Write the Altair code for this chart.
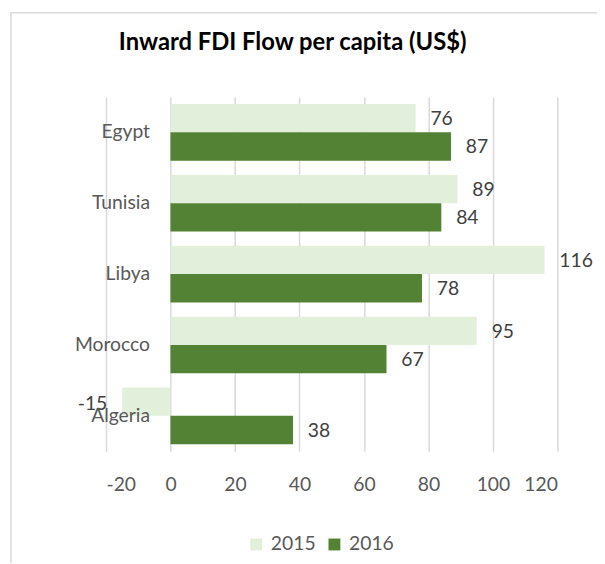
import altair as alt
import pandas as pd

countries = ["Egypt", "Tunisia", "Libya", "Morocco", "Algeria"]
years = ["2015", "2016"]
fdi_2015 = [76, 89, 116, 95, -15]
fdi_2016 = [87, 84, 78, 67, 38]
x_ticks = [-20, 0, 20, 40, 60, 80, 100, 120]
colors = ["#e2efda", "#548235"]
title_text = "Inward FDI Flow per capita (US$)"

rows = []
for c, a, b in zip(countries, fdi_2015, fdi_2016):
    rows.append({"country": c, "year": "2015", "value": a, "label": str(a)})
    rows.append({"country": c, "year": "2016", "value": b, "label": str(b)})
df = pd.DataFrame(rows)

font = "Lato"
fs = 19.5

y_enc = alt.Y("country:N", sort=countries,
              scale=alt.Scale(paddingInner=0.2, paddingOuter=0.1),
              axis=alt.Axis(title=None, domain=False, ticks=False, grid=False,
                            offset=-64, labelPadding=20, labelFontSize=fs,
                            labelColor="#595959", labelFont=font, zindex=1))
yoff = alt.YOffset("year:N", sort=years, scale=alt.Scale(paddingInner=0, paddingOuter=0))
x_enc = alt.X("value:Q", scale=alt.Scale(domain=[-20, 120], nice=False, zero=False),
              axis=alt.Axis(title=None, values=x_ticks, domain=False, ticks=False,
                            grid=True, gridColor="#d9d9d9", gridWidth=1.5,
                            labelFontSize=fs, labelColor="#595959", labelFont=font,
                            labelPadding=25, labelExpr="'' + datum.value"))

base = alt.Chart(df)

bars = base.mark_bar().encode(
    x=x_enc, y=y_enc, yOffset=yoff,
    color=alt.Color("year:N", sort=years,
                    scale=alt.Scale(domain=years, range=colors),
                    legend=alt.Legend(title=None, orient="none", legendX=142, legendY=442,
                                      direction="horizontal", symbolType="square",
                                      symbolSize=144, symbolStrokeWidth=0,
                                      labelFontSize=fs, labelColor="#595959",
                                      labelFont=font, columnPadding=9, labelOffset=5,
                                      padding=0)),
)

pos_text = base.transform_filter("datum.value >= 0").mark_text(
    align="left", baseline="middle", dx=15, dy=1, fontSize=fs, color="#404040", font=font
).encode(x="value:Q", y=alt.Y("country:N", sort=countries), yOffset=alt.YOffset("year:N", sort=years),
         text="label:N")

neg_text = base.transform_filter("datum.value < 0").mark_text(
    align="right", baseline="middle", dx=-15, dy=2, fontSize=fs, color="#404040", font=font
).encode(x="value:Q", y=alt.Y("country:N", sort=countries), yOffset=alt.YOffset("year:N", sort=years),
         text="label:N")

frame = alt.Chart(pd.DataFrame({"a": [0]})).mark_rect(
    fill=None, stroke="#d9d9d9", strokeWidth=1.5
).encode(x=alt.value(-96), x2=alt.value(510), y=alt.value(-85), y2=alt.value(480))

title = alt.Chart(pd.DataFrame({"t": [title_text]})).mark_text(
    align="left", baseline="alphabetic", fontSize=24, fontWeight="bold", font=font, color="#000000"
).encode(x=alt.value(13), y=alt.value(-47), text="t:N")

chart = alt.layer(frame, bars, pos_text, neg_text, title).properties(
    width=456, height=358,
    autosize=alt.AutoSizeParams(type="none"),
    padding={"left": 99, "top": 87, "right": 40, "bottom": 110},
).configure_view(stroke=None)

chart.save("out.html", embed_options={"renderer": "svg", "actions": False})
